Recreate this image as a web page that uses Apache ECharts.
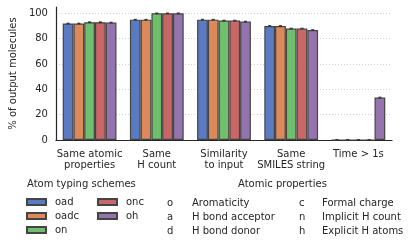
<!DOCTYPE html>
<html><head><meta charset="utf-8">
<script src="https://cdn.jsdelivr.net/npm/echarts@6/dist/echarts.min.js"></script>
<style>html,body{margin:0;padding:0;background:#fff}#c{width:415px;height:249px}</style>
</head><body><div id="c"></div>
<script>
const categories = ['Same atomic\nproperties', 'Same\nH count', 'Similarity\nto input', 'Same\nSMILES string', 'Time > 1s'];
const schemes = ['oad', 'oadc', 'on', 'onc', 'oh'];
const colors = ['#5a7bc2', '#dc8a5c', '#70bf6c', '#c96767', '#9374ad'];
const oad  = [92.0, 95.0, 95.0, 90.0, 0];
const oadc = [92.0, 95.0, 95.0, 90.0, 0];
const on   = [93.0, 100.0, 94.3, 88.0, 0];
const onc  = [93.0, 100.0, 94.3, 88.0, 0];
const oh   = [92.7, 100.0, 93.5, 86.8, 33.5];
const errors = [0.5, 0.5, 0.5, 0.5, 0.6];
const yTicks = [0, 20, 40, 60, 80, 100];
const propLetters1 = ['o', 'a', 'd'];
const propNames1 = ['Aromaticity', 'H bond acceptor', 'H bond donor'];
const propLetters2 = ['c', 'n', 'h'];
const propNames2 = ['Formal charge', 'Implicit H count', 'Explicit H atoms'];

const values = [oad, oadc, on, onc, oh];
const FONT = 'DejaVu Sans';
const TXT = '#262626';

const barSeries = schemes.map((name, i) => ({
  name, type: 'bar', data: values[i],
  barGap: '0%', barCategoryGap: '20%',
  itemStyle: { color: colors[i], borderColor: '#444', borderWidth: 1.2 },
  z: 2
}));

const errData = [];
values.forEach((arr, s) => arr.forEach((v, c) => errData.push([c, Math.max(0, v - errors[c] * 0.5), v + errors[c] * 0.5, s])));

const errSeries = {
  type: 'custom', z: 5, silent: true,
  data: errData,
  renderItem(params, api) {
    const c = api.value(0), lo = api.value(1), hi = api.value(2), s = api.value(3);
    const bw = api.size([1, 0])[0];
    const group = bw * 0.8, w = group / 5;
    const p1 = api.coord([c, lo]), p2 = api.coord([c, hi]);
    const x = p1[0] - group / 2 + w * (s + 0.5);
    const cap = 1.5;
    const st = { stroke: '#333', lineWidth: 1 };
    return { type: 'group', children: [
      { type: 'line', shape: { x1: x, y1: p1[1], x2: x, y2: p2[1] }, style: st },
      { type: 'line', shape: { x1: x - cap, y1: p1[1], x2: x + cap, y2: p1[1] }, style: st },
      { type: 'line', shape: { x1: x - cap, y1: p2[1], x2: x + cap, y2: p2[1] }, style: st }
    ]};
  }
};

const graphics = [
  { type: 'text', left: 27, top: 179, style: { text: 'Atom typing schemes', font: '10px "DejaVu Sans"', fill: TXT } },
  { type: 'text', left: 238, top: 179, style: { text: 'Atomic properties', font: '10px "DejaVu Sans"', fill: TXT } }
];
[202, 216, 230].forEach((y, r) => {
  graphics.push({ type: 'text', left: 167, top: y - 4, style: { text: propLetters1[r], font: '10px "DejaVu Sans"', fill: TXT } });
  graphics.push({ type: 'text', left: 192, top: y - 4, style: { text: propNames1[r], font: '10px "DejaVu Sans"', fill: TXT } });
  graphics.push({ type: 'text', left: 299, top: y - 4, style: { text: propLetters2[r], font: '10px "DejaVu Sans"', fill: TXT } });
  graphics.push({ type: 'text', left: 322, top: y - 4, style: { text: propNames2[r], font: '10px "DejaVu Sans"', fill: TXT } });
});

const legendCommon = {
  orient: 'vertical', icon: 'rect', itemWidth: 19, itemHeight: 6, itemGap: 2, padding: 0,
  textStyle: { fontFamily: FONT, fontSize: 10, color: TXT, lineHeight: 12, padding: [0, 0, 0, 4] },
  selectedMode: false
};

const chart = echarts.init(document.getElementById('c'), null, { renderer: 'canvas' });
chart.setOption({
  animation: false,
  textStyle: { fontFamily: FONT },
  grid: { left: 52, right: 23, top: 7, bottom: 109, containLabel: false },
  legend: [
    Object.assign({ left: 26, top: 196, data: schemes.slice(0, 3) }, legendCommon),
    Object.assign({ left: 97, top: 196, data: schemes.slice(3) }, legendCommon)
  ],
  xAxis: {
    type: 'category', data: categories,
    axisLine: { lineStyle: { color: '#262626', width: 1.2 } },
    axisTick: { show: false },
    axisLabel: { fontFamily: FONT, fontSize: 10, color: TXT, lineHeight: 11, margin: 9, interval: 0 }
  },
  yAxis: {
    type: 'value', min: 0, max: 105, interval: 20,
    name: '% of output molecules', nameLocation: 'middle', nameGap: 33, nameRotate: 90,
    nameTextStyle: { fontFamily: FONT, fontSize: 10, color: TXT },
    axisLine: { show: true, lineStyle: { color: '#262626', width: 1.2 } },
    axisTick: { show: false },
    axisLabel: { fontFamily: FONT, fontSize: 10, color: TXT, margin: 8, showMaxLabel: false,
      formatter: v => yTicks.includes(v) ? String(v) : '' },
    splitLine: { show: true, lineStyle: { type: [1, 2], width: 0.8,
      color: ['#c4c4c4', '#c4c4c4', '#c4c4c4', '#c4c4c4', '#c4c4c4', '#c4c4c4', 'rgba(0,0,0,0)'] } }
  },
  graphic: graphics,
  series: barSeries.concat([errSeries])
});
</script></body></html>
